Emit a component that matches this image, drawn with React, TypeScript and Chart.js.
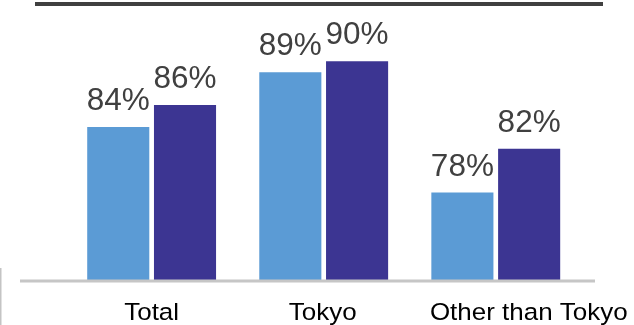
import { useEffect, useRef } from "react";
import { Chart, registerables } from "chart.js";

Chart.register(...registerables);

// Categories and the two survey series (percent)
const categories = ["Total", "Tokyo", "Other than Tokyo"];
const seriesPrevious = [84, 89, 78];
const seriesCurrent = [86, 90, 82];

// Value axis range
const axisMin = 70;
const axisMax = 95;

const FONT = "'Liberation Sans', Arial, sans-serif";

// Horizontal nudge for each category caption (px)
const captionShift = [0, -1, 33];

const decorations = {
  id: "decorations",
  beforeDraw(chart: Chart) {
    const { ctx } = chart;
    ctx.save();
    // dark rule across the top
    ctx.fillStyle = "#404040";
    ctx.fillRect(35, 2, 568, 4);
    // small grey mark at the lower left edge
    ctx.fillStyle = "#C4C4C4";
    ctx.fillRect(0, 268, 1.5, 57);
    ctx.restore();
  },
  afterDatasetsDraw(chart: Chart) {
    const { ctx, chartArea } = chart;
    ctx.save();
    // grey baseline under the bars
    ctx.fillStyle = "#C6C6C6";
    ctx.fillRect(20, chartArea.bottom - 0.5, 575, 3);

    // value labels above bars
    ctx.font = `31.5px ${FONT}`;
    ctx.fillStyle = "#404040";
    ctx.textAlign = "center";
    ctx.textBaseline = "alphabetic";
    chart.data.datasets.forEach((ds, di) => {
      const meta = chart.getDatasetMeta(di);
      meta.data.forEach((bar: any, i: number) => {
        const v = ds.data[i] as number;
        ctx.fillText(`${v}%`, bar.x, bar.y - 17);
      });
    });

    // category captions, set slightly wide
    const xScale = chart.scales.x;
    ctx.font = `24.5px ${FONT}`;
    ctx.fillStyle = "#000000";
    const stretch = 1.06;
    categories.forEach((c, i) => {
      const cx = xScale.getPixelForValue(i) + captionShift[i];
      ctx.save();
      ctx.translate(cx, chartArea.bottom + 39.5);
      ctx.scale(stretch, 1);
      ctx.fillText(c, 0, 0);
      ctx.restore();
    });
    ctx.restore();
  },
};

export default function App() {
  const canvasRef = useRef<HTMLCanvasElement>(null);

  useEffect(() => {
    if (!canvasRef.current) return;
    const chart = new Chart(canvasRef.current, {
      type: "bar",
      data: {
        labels: categories,
        datasets: [
          {
            data: seriesPrevious,
            backgroundColor: "#5B9BD5",
            borderWidth: 0,
            barPercentage: 0.93,
            categoryPercentage: 0.776,
          },
          {
            data: seriesCurrent,
            backgroundColor: "#3C3592",
            borderWidth: 0,
            barPercentage: 0.93,
            categoryPercentage: 0.776,
          },
        ],
      },
      options: {
        responsive: false,
        animation: false,
        devicePixelRatio: 1,
        layout: { padding: { left: 65.6, right: 52.2, top: 6.7, bottom: 45 } },
        plugins: {
          legend: { display: false },
          tooltip: { enabled: false },
        },
        scales: {
          x: { display: false },
          y: { display: false, min: axisMin, max: axisMax },
        },
      },
      plugins: [decorations],
    });
    return () => chart.destroy();
  }, []);

  return (
    <div style={{ position: "fixed", left: 0, top: 0, width: 634, height: 325, background: "#ffffff" }}>
      <canvas ref={canvasRef} width={634} height={325} />
    </div>
  );
}
